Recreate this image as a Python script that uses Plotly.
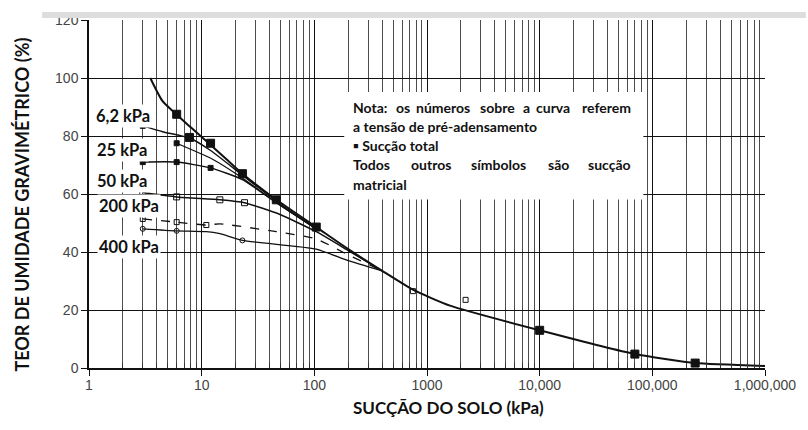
import plotly.graph_objects as go

# ---------------- data ----------------
x_tickvals = [1, 10, 100, 1000, 10000, 100000, 1000000]
x_ticktext = ["1", "10", "100", "1000", "10,000", "100,000", "1,000,000"]
y_tickvals = [0, 20, 40, 60, 80, 100, 120]

# total suction curve
total_x = [3.5, 4.5, 8, 16.6, 23, 46, 104, 200, 400, 750, 1600, 10000, 70000, 240000, 1000000]
total_y = [100, 92, 83, 72, 67, 58, 48.6, 41, 33.5, 27, 21.5, 13, 4.8, 1.7, 0.7]
total_mx = [6, 7.8, 12, 23, 46, 104, 10000, 70000, 240000]
total_my = [87.5, 79.5, 77.5, 67, 58, 48.6, 13, 4.8, 1.7]

# matric curves
c62_x = [3, 4.5, 7.8, 12, 23, 46, 104]
c62_y = [83.5, 81.5, 79.3, 75, 66.5, 57.5, 48]
c62b_x = [6, 12.5, 23, 46, 104]
c62b_y = [77.5, 72, 65.5, 57, 48]
c25_x = [3, 6, 12, 23, 46, 104]
c25_y = [71, 71, 69, 65, 57, 48]
c50_x = [3, 6, 14.5, 24, 49, 104, 200, 400]
c50_y = [60.5, 59, 58, 57, 53, 47, 40.5, 33.5]
c200_x = [3, 6, 11, 14.5, 46, 104, 200, 400]
c200_y = [51.4, 50.3, 49.3, 49.7, 47, 44.5, 39, 33.5]
c400_x = [3, 6, 11, 14.5, 23, 104, 200, 400]
c400_y = [48, 47.3, 47, 46.3, 44, 41, 37, 33.5]
matric_tail_x = [750, 2200]
matric_tail_y = [26.5, 23.5]

labels = ["6,2 kPa", "25 kPa", "50 kPa", "200 kPa", "400 kPa"]
note_lines = [
    "Nota: os números sobre a curva referem",
    "a tensão de pré-adensamento",
    "▪ Sucção total",
    "Todos outros símbolos são sucção",
    "matricial",
]
note_justified = [True, False, False, True, False]

# ---------------- figure ----------------
L, R, T, B = 89, 767, 15, 368
def px(x):
    return (x - L) / (R - L)
def py(y):
    return (B - y) / (B - T)

fig = go.Figure()

def line(x, y, width=1.5, dash="solid"):
    fig.add_trace(go.Scatter(x=x, y=y, mode="lines", line=dict(color="#111", width=width, dash=dash,
                                                                  shape="spline", smoothing=0.5),
                             showlegend=False, hoverinfo="skip"))

def marks(x, y, symbol, size):
    fig.add_trace(go.Scatter(x=x, y=y, mode="markers",
                             marker=dict(symbol=symbol, size=size, color="#111",
                                         line=dict(color="#111", width=1)),
                             showlegend=False, hoverinfo="skip"))

line(c400_x, c400_y, 1.3)
line(c200_x, c200_y, 1.3, "dash")
line(c50_x, c50_y, 1.5)
line(c25_x, c25_y, 1.5)
line(c62b_x, c62b_y, 1.3)
line(c62_x, c62_y, 1.5)
line(total_x, total_y, 2)

marks(total_mx, total_my, "square", 8)
marks(c62_x[:1] + c62b_x[:1], c62_y[:1] + c62b_y[:1], "square", 5)
marks(c25_x[:3], c25_y[:3], "square", 5)
marks(c50_x[:4], c50_y[:4], "square-open", 6)
marks(c200_x[:3], c200_y[:3], "square-open", 5)
marks(c400_x[:2] + c400_x[4:5], c400_y[:2] + c400_y[4:5], "circle-open", 5)
marks(matric_tail_x, matric_tail_y, "square-open", 5)

minor_vals = [m * 10 ** d for d in range(6) for m in range(2, 10)]

fig.update_layout(
    width=808, height=430,
    margin=dict(l=L, r=808 - R, t=T, b=430 - B),
    paper_bgcolor="white", plot_bgcolor="white",
    font=dict(family="Arial", color="#444"),
    xaxis=dict(type="log", range=[0, 6], tickmode="array", tickvals=x_tickvals, ticktext=x_ticktext,
               showgrid=True, gridcolor="#111", gridwidth=1.3,
               minor=dict(tickmode="array", tickvals=minor_vals, showgrid=True,
                          gridcolor="rgba(0,0,0,0.7)", gridwidth=1.1,
                          ticks="inside", ticklen=5, tickcolor="#333"),
               showline=True, linecolor="#111", linewidth=1.5,
               ticks="outside", ticklen=6, tickcolor="#111",
               ticklabelstandoff=-3,
               tickfont=dict(family="Arial", size=14, color="#444"),
               zeroline=False),
    yaxis=dict(range=[0, 120], tickmode="array", tickvals=y_tickvals,
               showgrid=True, gridcolor="#111", gridwidth=1.2,
               showline=True, linecolor="#111", linewidth=1.5,
               ticks="outside", ticklen=6, tickcolor="#111",
               tickfont=dict(family="Arial", size=14, color="#444"),
               zeroline=False),
)

# top gray band
fig.add_shape(type="rect", xref="paper", yref="paper", x0=px(42), x1=px(808), y0=py(13), y1=py(7),
              fillcolor="#dddddd", line=dict(width=0), layer="above")
# white note box
fig.add_shape(type="rect", xref="paper", yref="paper", x0=px(345), x1=px(645), y0=py(197), y1=py(88),
              fillcolor="white", line=dict(width=0), layer="above")

# approximate glyph advances (em) of the bold note font, used to justify lines
GLYPH = {"i": .27, "l": .27, "í": .27, ":": .27, "f": .34, "t": .37, "r": .39, "s": .43,
         "c": .47, "ç": .47, "m": .86, "N": .75, "T": .57, "v": .52, "g": .52}
note_size = 14
def est_width(word):
    return sum(GLYPH.get(ch, .56) for ch in word) * note_size * 1.1

note_font = dict(family="Lato", size=note_size, color="#111")
note_left, note_right = 352, 635
note_y = [103.5, 123, 142.5, 162, 181.5]
for txt, yy, just in zip(note_lines, note_y, note_justified):
    if not just:
        fig.add_annotation(text="<b>" + txt + "</b>", xref="paper", yref="paper", x=px(note_left),
                           y=py(yy), xanchor="left", yanchor="middle", showarrow=False, font=note_font)
        continue
    words = txt.split()
    total = sum(est_width(w) for w in words)
    gap = (note_right - note_left - total) / (len(words) - 1)
    xpos = note_left
    for i, w in enumerate(words):
        last = i == len(words) - 1
        fig.add_annotation(text="<b>" + w + "</b>", xref="paper", yref="paper",
                           x=px(note_right if last else xpos), y=py(yy),
                           xanchor="right" if last else "left", yanchor="middle",
                           showarrow=False, font=note_font)
        xpos += est_width(w) + gap

label_pos = [(123, 112), (122, 147), (122, 178), (129, 204), (129, 245)]
for txt, (xx, yy) in zip(labels, label_pos):
    fig.add_annotation(text="<b>" + txt + "</b>", xref="paper", yref="paper", x=px(xx), y=py(yy),
                       xanchor="center", yanchor="middle", showarrow=False, bgcolor="white",
                       borderpad=1, font=dict(family="Lato", size=16.5, color="#111"))

fig.add_annotation(text="<b>SUCÇÃO DO SOLO (kPa)</b>", xref="paper", yref="paper",
                   x=px(450), y=py(408), xanchor="center", yanchor="middle", showarrow=False,
                   font=dict(family="Lato", size=17, color="#111"))
fig.add_annotation(text="<b>TEOR DE UMIDADE GRAVIMÉTRICO (%)</b>", xref="paper", yref="paper",
                   x=px(22), y=py(202), xanchor="center", yanchor="middle", showarrow=False,
                   textangle=-90, font=dict(family="Lato", size=18, color="#111"))

fig.write_html("out.html")
